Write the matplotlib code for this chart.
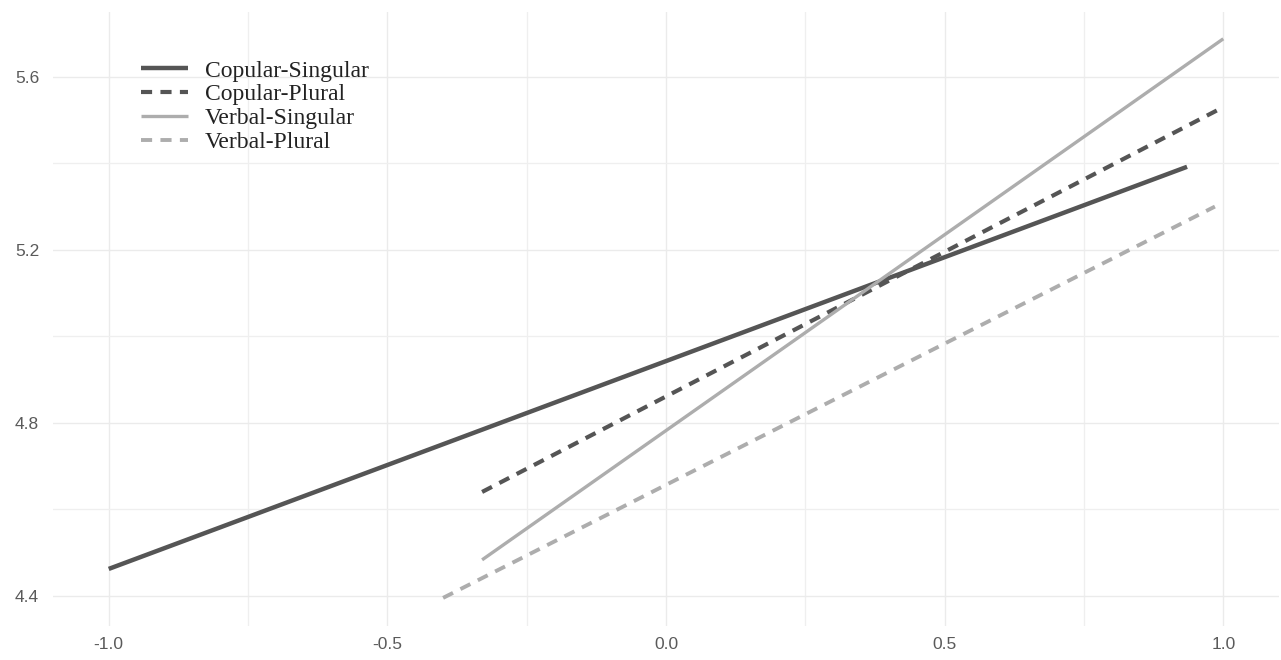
import matplotlib
matplotlib.use('Agg')
import matplotlib.pyplot as plt
from matplotlib.ticker import MultipleLocator

# endpoints of each fitted line (x = predictor, y = rating)
cop_sg_x = [-1.0, 0.935]
cop_sg_y = [4.462, 5.392]
cop_pl_x = [-0.33, 1.0]
cop_pl_y = [4.640, 5.530]
verb_sg_x = [-0.33, 1.0]
verb_sg_y = [4.483, 5.688]
verb_pl_x = [-0.40, 0.985]
verb_pl_y = [4.395, 5.300]

labels = ['Copular-Singular', 'Copular-Plural', 'Verbal-Singular', 'Verbal-Plural']
xticks = [-1.0, -0.5, 0.0, 0.5, 1.0]
yticks = [4.4, 4.8, 5.2, 5.6]

plt.rcParams['lines.scale_dashes'] = False

fig = plt.figure(figsize=(12.81, 6.60), dpi=100)
ax = fig.add_axes([53 / 1281, 34 / 660, 1226 / 1281, 614 / 660])

dark = '#555555'
light = '#adadad'
ax.plot(cop_sg_x, cop_sg_y, color=dark, lw=3.2, solid_capstyle='butt', label=labels[0])
ax.plot(cop_pl_x, cop_pl_y, color=dark, lw=3.0, dashes=(8, 6), dash_capstyle='butt', label=labels[1])
ax.plot(verb_sg_x, verb_sg_y, color=light, lw=2.4, solid_capstyle='butt', label=labels[2])
ax.plot(verb_pl_x, verb_pl_y, color=light, lw=2.8, dashes=(8, 6), dash_capstyle='butt', label=labels[3])

ax.set_xlim(-1.1, 1.1)
ax.set_ylim(4.33, 5.75)
ax.set_xticks(xticks)
ax.set_yticks(yticks)
ax.set_xticklabels(['%.1f' % v for v in xticks])
ax.set_yticklabels(['%.1f' % v for v in yticks])
ax.xaxis.set_minor_locator(MultipleLocator(0.25))
ax.yaxis.set_minor_locator(MultipleLocator(0.2))
ax.grid(which='major', color='#ebebeb', lw=1.0)
ax.grid(which='minor', color='#efefef', lw=0.9)
ax.set_axisbelow(True)
for s in ax.spines.values():
    s.set_visible(False)
ax.tick_params(which='both', length=0)
ax.tick_params(axis='both', labelsize=12.5, labelcolor='#5a5a5a')
ax.tick_params(axis='y', pad=10)
ax.tick_params(axis='x', pad=8)
for t in ax.get_xticklabels() + ax.get_yticklabels():
    t.set_family('Liberation Sans')

leg = ax.legend(loc='upper left', bbox_to_anchor=(141 / 1281, 1 - 60 / 660),
                bbox_transform=fig.transFigure, frameon=False,
                prop={'family': 'Liberation Serif', 'size': 17},
                handlelength=2.0, handletextpad=0.7, labelspacing=0.1,
                borderpad=0, borderaxespad=0)
for t in leg.get_texts():
    t.set_color('#222222')

fig.savefig('out.png', dpi=100)
